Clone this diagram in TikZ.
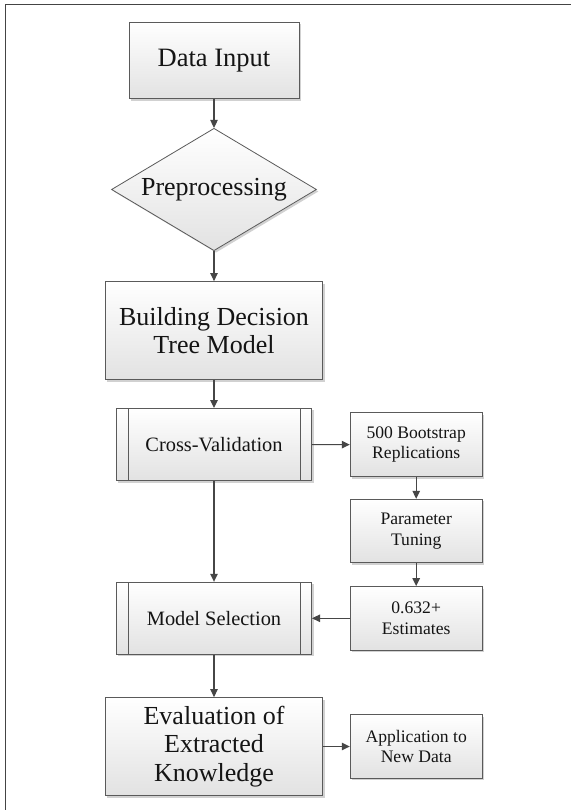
\documentclass[tikz,border=0pt]{standalone}
\usepackage{fontspec}
\setmainfont{Liberation Serif}
\usetikzlibrary{shapes.geometric,arrows.meta,shadows}
\definecolor{edge}{RGB}{90,90,90}
\definecolor{arr}{RGB}{70,70,70}
\definecolor{frame}{RGB}{68,68,68}
\definecolor{fillbot}{RGB}{226,226,226}
\definecolor{txt}{RGB}{20,20,20}
\tikzset{
  boxbase/.style={draw=edge, line width=0.8pt, top color=white, bottom color=fillbot,
    drop shadow={shadow xshift=2pt, shadow yshift=-2pt, fill=black, opacity=0.18},
    inner sep=0pt, align=center, text=txt},
  bigbox/.style={boxbase, rectangle, minimum width=217.5pt, minimum height=98pt,
    font=\fontsize{26}{28.3}\selectfont},
  topbox/.style={boxbase, rectangle, minimum width=170pt, minimum height=76.5pt,
    font=\fontsize{26.5}{28.3}\selectfont},
  decbox/.style={boxbase, diamond, aspect=1.675, minimum width=205pt, minimum height=122.4pt,
    font=\fontsize{26}{28.3}\selectfont},
  procbox/.style={boxbase, rectangle, minimum width=195.2pt, minimum height=72.2pt,
    font=\fontsize{20.4}{23}\selectfont,
    path picture={
      \draw[edge, line width=0.8pt] ([xshift=12pt]path picture bounding box.north west) -- ([xshift=12pt]path picture bounding box.south west);
      \draw[edge, line width=0.8pt] ([xshift=-11.5pt]path picture bounding box.north east) -- ([xshift=-11.5pt]path picture bounding box.south east);
    }},
  smallbox/.style={boxbase, rectangle, minimum width=132pt, minimum height=63.6pt,
    font=\fontsize{17.6}{20.5}\selectfont},
  conn/.style={draw=arr, line width=1.1pt, -{Triangle[length=8pt,width=7.5pt]}},
}
\begin{document}
\begin{tikzpicture}[x=1pt,y=-1pt]
\useasboundingbox (0,0) rectangle (570,810);
\fill[white] (0,0) rectangle (570,810);
\draw[frame, line width=1.6pt] (5.6,815) -- (5.6,4.6) -- (575,4.6);

\node[topbox]   (data)  at (214,60.3)   {Data Input};
\node[decbox]   (prep)  at (214,189.5)  {Preprocessing};
\node[bigbox]   (build) at (214,330.5)  {Building Decision\\Tree Model};
\node[procbox]  (cv)    at (214,444.5)  {Cross-Validation};
\node[smallbox, minimum height=64pt] (boot) at (416.2,444.7) {500 Bootstrap\\Replications};
\node[smallbox] (tune)  at (416.2,531)  {Parameter\\Tuning};
\node[smallbox] (est)   at (416.2,618.3) {0.632+\\Estimates};
\node[procbox]  (ms)    at (214,618.3)  {Model Selection};
\node[bigbox]   (eval)  at (214,746.5)  {Evaluation of\\Extracted\\Knowledge};
\node[smallbox] (app)   at (416.2,746.5) {Application to\\New Data};

\draw[conn] (data) -- (prep);
\draw[conn] (prep) -- (build);
\draw[conn] (build) -- (cv);
\draw[conn] (cv) -- (boot);
\draw[conn] (boot) -- (tune);
\draw[conn] (tune) -- (est);
\draw[conn] (est) -- (ms);
\draw[conn] (cv) -- (ms);
\draw[conn] (ms) -- (eval);
\draw[conn] (eval) -- (app);
\end{tikzpicture}
\end{document}
